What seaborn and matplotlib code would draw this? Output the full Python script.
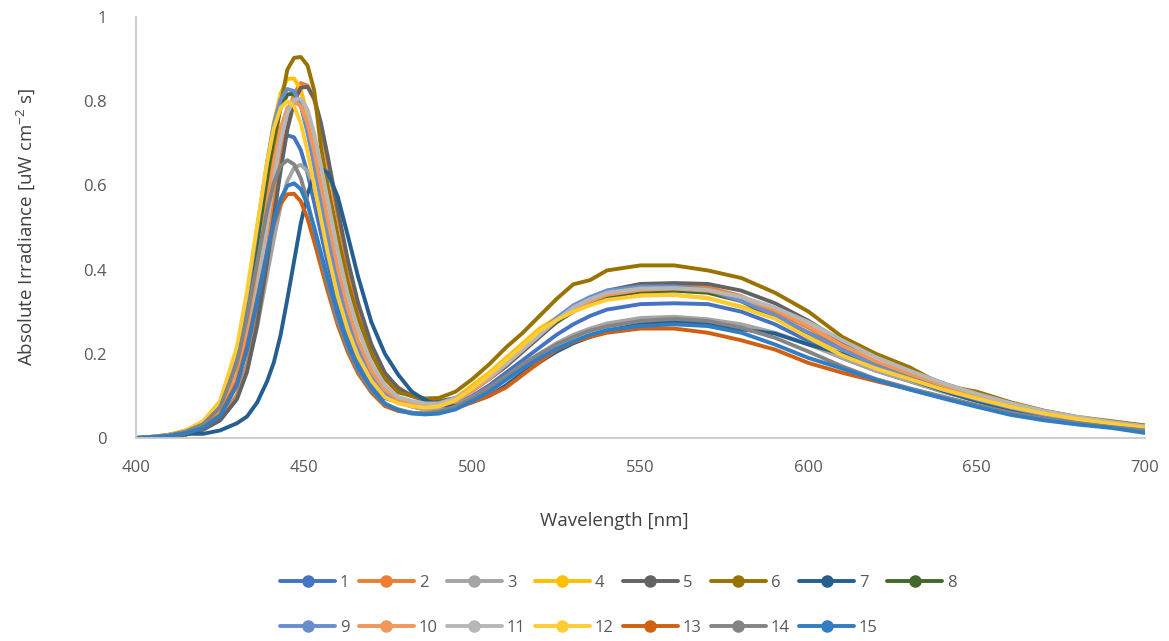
import pandas as pd
import matplotlib
matplotlib.use("Agg")
import matplotlib.pyplot as plt
from matplotlib.lines import Line2D
import seaborn as sns

# ==========================================
# Data
# ==========================================
wavelength = [400, 405, 410, 415, 420, 425, 430, 433, 436, 439, 441, 443, 445, 447, 449, 451, 453, 455,
              457, 460, 463, 466, 470, 474, 478, 482, 486, 490, 495, 500, 505, 510, 515, 520, 525, 530,
              535, 540, 550, 560, 570, 580, 590, 600, 610, 620, 630, 640, 650, 660, 670, 680, 690, 700]

led_01 = [0, 0.003, 0.006, 0.016, 0.034, 0.074, 0.179, 0.292, 0.431, 0.569, 0.647, 0.697, 0.719, 0.714, 0.684, 0.629, 0.558, 0.486,
          0.414, 0.317, 0.241, 0.183, 0.128, 0.095, 0.085, 0.075, 0.068, 0.068, 0.08, 0.10, 0.125, 0.155, 0.185, 0.215, 0.245, 0.27,
          0.29, 0.305, 0.318, 0.32, 0.318, 0.30, 0.27, 0.23, 0.19, 0.16, 0.135, 0.11, 0.088, 0.068, 0.052, 0.04, 0.03, 0.02]
led_02 = [0, 0.0, 0.003, 0.009, 0.022, 0.045, 0.102, 0.174, 0.293, 0.45, 0.56, 0.668, 0.759, 0.818, 0.843, 0.837, 0.803, 0.738,
          0.655, 0.528, 0.408, 0.311, 0.215, 0.15, 0.12, 0.10, 0.088, 0.085, 0.092, 0.112, 0.14, 0.175, 0.21, 0.245, 0.28, 0.31,
          0.33, 0.348, 0.362, 0.365, 0.358, 0.337, 0.30, 0.262, 0.216, 0.178, 0.148, 0.122, 0.098, 0.076, 0.058, 0.045, 0.034, 0.025]
led_03 = [0, 0.001, 0.004, 0.009, 0.02, 0.042, 0.094, 0.161, 0.263, 0.389, 0.473, 0.551, 0.61, 0.642, 0.649, 0.634, 0.595, 0.536,
          0.471, 0.374, 0.286, 0.218, 0.15, 0.105, 0.085, 0.075, 0.067, 0.066, 0.078, 0.097, 0.12, 0.145, 0.175, 0.20, 0.225, 0.245,
          0.26, 0.272, 0.285, 0.288, 0.282, 0.27, 0.25, 0.222, 0.19, 0.16, 0.135, 0.11, 0.088, 0.068, 0.052, 0.04, 0.03, 0.02]
led_04 = [0, 0.003, 0.008, 0.018, 0.038, 0.081, 0.193, 0.321, 0.484, 0.651, 0.75, 0.818, 0.853, 0.854, 0.827, 0.767, 0.686, 0.60,
          0.514, 0.394, 0.30, 0.227, 0.159, 0.111, 0.095, 0.085, 0.08, 0.08, 0.095, 0.125, 0.155, 0.19, 0.225, 0.26, 0.285, 0.305,
          0.32, 0.33, 0.34, 0.34, 0.332, 0.312, 0.285, 0.24, 0.198, 0.168, 0.142, 0.118, 0.097, 0.078, 0.06, 0.046, 0.035, 0.025]
led_05 = [0, 0, 0.003, 0.008, 0.02, 0.042, 0.092, 0.157, 0.268, 0.418, 0.527, 0.635, 0.732, 0.798, 0.832, 0.834, 0.807, 0.748,
          0.669, 0.543, 0.422, 0.322, 0.222, 0.155, 0.118, 0.10, 0.09, 0.087, 0.095, 0.115, 0.14, 0.17, 0.205, 0.24, 0.275, 0.305,
          0.33, 0.35, 0.366, 0.368, 0.366, 0.35, 0.32, 0.278, 0.228, 0.195, 0.16, 0.13, 0.104, 0.082, 0.063, 0.048, 0.036, 0.026]
led_06 = [0, 0.002, 0.005, 0.014, 0.029, 0.062, 0.143, 0.244, 0.394, 0.570, 0.688, 0.792, 0.875, 0.903, 0.905, 0.885, 0.825, 0.69,
          0.60, 0.48, 0.37, 0.285, 0.199, 0.14, 0.108, 0.10, 0.094, 0.095, 0.11, 0.14, 0.175, 0.215, 0.25, 0.29, 0.33, 0.365,
          0.375, 0.398, 0.41, 0.41, 0.398, 0.38, 0.345, 0.30, 0.24, 0.20, 0.168, 0.125, 0.11, 0.085, 0.065, 0.05, 0.04, 0.03]
led_07 = [0, 0.002, 0.008, 0.01, 0.01, 0.018, 0.035, 0.051, 0.084, 0.135, 0.18, 0.245, 0.33, 0.42, 0.51, 0.58, 0.625, 0.64,
          0.63, 0.573, 0.48, 0.384, 0.275, 0.20, 0.15, 0.11, 0.09, 0.078, 0.076, 0.085, 0.10, 0.125, 0.155, 0.18, 0.205, 0.225,
          0.24, 0.255, 0.27, 0.278, 0.272, 0.258, 0.248, 0.222, 0.20, 0.168, 0.14, 0.112, 0.088, 0.068, 0.052, 0.04, 0.03, 0.02]
led_08 = [0, 0.002, 0.007, 0.017, 0.036, 0.078, 0.185, 0.308, 0.463, 0.623, 0.718, 0.783, 0.816, 0.818, 0.791, 0.734, 0.656, 0.574,
          0.492, 0.377, 0.287, 0.217, 0.152, 0.107, 0.09, 0.082, 0.077, 0.078, 0.09, 0.115, 0.145, 0.175, 0.21, 0.245, 0.275, 0.30,
          0.32, 0.335, 0.348, 0.35, 0.345, 0.325, 0.285, 0.25, 0.21, 0.175, 0.145, 0.118, 0.095, 0.075, 0.058, 0.044, 0.033, 0.024]
led_09 = [0, 0.003, 0.007, 0.018, 0.039, 0.086, 0.206, 0.337, 0.497, 0.656, 0.746, 0.804, 0.829, 0.824, 0.789, 0.725, 0.644, 0.561,
          0.478, 0.366, 0.278, 0.211, 0.148, 0.105, 0.088, 0.078, 0.073, 0.075, 0.09, 0.115, 0.145, 0.18, 0.215, 0.25, 0.285, 0.315,
          0.335, 0.35, 0.36, 0.36, 0.352, 0.325, 0.292, 0.25, 0.21, 0.172, 0.142, 0.115, 0.092, 0.072, 0.055, 0.042, 0.032, 0.022]
led_10 = [0, 0.002, 0.006, 0.014, 0.03, 0.064, 0.15, 0.256, 0.40, 0.556, 0.656, 0.736, 0.784, 0.80, 0.788, 0.748, 0.68, 0.60,
          0.52, 0.404, 0.308, 0.232, 0.16, 0.114, 0.092, 0.08, 0.074, 0.075, 0.088, 0.112, 0.14, 0.175, 0.21, 0.245, 0.28, 0.305,
          0.325, 0.34, 0.352, 0.355, 0.35, 0.335, 0.305, 0.265, 0.22, 0.182, 0.152, 0.125, 0.10, 0.078, 0.06, 0.046, 0.035, 0.025]
led_11 = [0, 0.002, 0.005, 0.012, 0.026, 0.055, 0.128, 0.218, 0.351, 0.509, 0.614, 0.707, 0.772, 0.804, 0.806, 0.78, 0.723, 0.646,
          0.566, 0.444, 0.339, 0.259, 0.178, 0.125, 0.097, 0.088, 0.082, 0.082, 0.095, 0.118, 0.145, 0.175, 0.21, 0.245, 0.28, 0.31,
          0.33, 0.345, 0.355, 0.356, 0.352, 0.335, 0.31, 0.275, 0.232, 0.192, 0.16, 0.13, 0.105, 0.083, 0.064, 0.05, 0.038, 0.028]
led_12 = [0, 0.003, 0.008, 0.019, 0.04, 0.088, 0.216, 0.348, 0.504, 0.656, 0.736, 0.784, 0.80, 0.788, 0.748, 0.68, 0.60, 0.52,
          0.44, 0.336, 0.256, 0.194, 0.136, 0.097, 0.082, 0.076, 0.072, 0.075, 0.09, 0.118, 0.15, 0.185, 0.22, 0.255, 0.28, 0.30,
          0.315, 0.328, 0.338, 0.34, 0.333, 0.31, 0.283, 0.238, 0.196, 0.165, 0.14, 0.115, 0.094, 0.074, 0.058, 0.045, 0.034, 0.024]
led_13 = [0, 0.002, 0.005, 0.012, 0.026, 0.055, 0.131, 0.218, 0.329, 0.442, 0.509, 0.556, 0.579, 0.58, 0.562, 0.521, 0.466, 0.407,
          0.349, 0.268, 0.204, 0.154, 0.108, 0.076, 0.064, 0.06, 0.058, 0.062, 0.07, 0.085, 0.10, 0.12, 0.15, 0.18, 0.21, 0.228,
          0.24, 0.25, 0.26, 0.26, 0.25, 0.232, 0.21, 0.178, 0.155, 0.135, 0.116, 0.096, 0.076, 0.057, 0.044, 0.034, 0.025, 0.017]
led_14 = [0, 0.003, 0.007, 0.016, 0.033, 0.073, 0.178, 0.287, 0.416, 0.541, 0.607, 0.647, 0.66, 0.65, 0.617, 0.561, 0.495, 0.429,
          0.363, 0.277, 0.211, 0.16, 0.112, 0.08, 0.068, 0.06, 0.058, 0.062, 0.075, 0.095, 0.12, 0.148, 0.175, 0.20, 0.222, 0.24,
          0.255, 0.265, 0.278, 0.283, 0.278, 0.262, 0.238, 0.205, 0.17, 0.14, 0.118, 0.098, 0.078, 0.06, 0.046, 0.035, 0.026, 0.018]
led_15 = [0, 0.002, 0.005, 0.012, 0.024, 0.052, 0.125, 0.21, 0.323, 0.441, 0.514, 0.568, 0.599, 0.605, 0.591, 0.554, 0.50, 0.439,
          0.379, 0.293, 0.223, 0.168, 0.118, 0.082, 0.066, 0.058, 0.056, 0.058, 0.068, 0.088, 0.11, 0.138, 0.165, 0.19, 0.212, 0.23,
          0.245, 0.256, 0.266, 0.27, 0.266, 0.25, 0.222, 0.19, 0.165, 0.138, 0.115, 0.094, 0.074, 0.055, 0.042, 0.032, 0.024, 0.012]

series_names = [str(i) for i in range(1, 16)]
series_values = [led_01, led_02, led_03, led_04, led_05, led_06, led_07, led_08,
                 led_09, led_10, led_11, led_12, led_13, led_14, led_15]

colors = ["#4472C4", "#ED7D31", "#A5A5A5", "#FFC000", "#636363", "#997300", "#255E91", "#43682B",
          "#698ED0", "#F1975A", "#B7B7B7", "#FFCD33", "#D06012", "#848484", "#327DC2"]

x_ticks = [400, 450, 500, 550, 600, 650, 700]
y_ticks = [0, 0.2, 0.4, 0.6, 0.8, 1]

# ==========================================
# Long-form table
# ==========================================
data = pd.concat(
    [pd.DataFrame({"Wavelength": wavelength, "Irradiance": vals, "LED": name})
     for name, vals in zip(series_names, series_values)],
    ignore_index=True,
)

# ==========================================
# Plot
# ==========================================
sns.set_theme(style="white")
plt.rcParams["font.family"] = ["Open Sans", "DejaVu Sans"]
text_color = "#595959"

fig = plt.figure(figsize=(11.69, 6.41), dpi=100)
ax = fig.add_axes([136 / 1169, 1 - 438 / 641, 1009 / 1169, 421 / 641])

sns.lineplot(data=data, x="Wavelength", y="Irradiance", hue="LED", hue_order=series_names,
             palette=colors, linewidth=2.8, errorbar=None, legend=False, ax=ax,
             solid_capstyle="round", solid_joinstyle="round")

ax.set_xlim(400, 700)
ax.set_ylim(0, 1)
ax.set_xticks(x_ticks)
ax.set_yticks(y_ticks)
ax.set_yticklabels([f"{v:g}" for v in y_ticks])
ax.tick_params(axis="both", length=0, labelsize=12, colors=text_color)
ax.tick_params(axis="x", pad=16)
ax.tick_params(axis="y", pad=21)

for side in ["top", "right"]:
    ax.spines[side].set_visible(False)
for side in ["left", "bottom"]:
    ax.spines[side].set_color("#C9C9C9")
    ax.spines[side].set_linewidth(1.3)

ax.set_xlabel("Wavelength [nm]", fontsize=13.5, color="#404040")
ax.set_ylabel("Absolute Irradiance [uW cm$^{\\mathregular{-2}}$ s]", fontsize=13.5, color="#404040")
ax.xaxis.set_label_coords(0.474, -0.175)
ax.yaxis.set_label_coords(-0.097, 0.5)

# legend laid out in rows: 1..8 on top, 9..15 below
order = [0, 8, 1, 9, 2, 10, 3, 11, 4, 12, 5, 13, 6, 14, 7]
handles = [Line2D([0], [0], color=colors[i], lw=2.8, marker="o", markersize=8,
                  solid_capstyle="round") for i in order]
labels = [series_names[i] for i in order]
fig.legend(handles, labels, ncol=8, loc="upper left", bbox_to_anchor=(280 / 1169, 1 - 575 / 641),
           frameon=False, fontsize=12, labelcolor=text_color, handlelength=3.3, handletextpad=0.3,
           columnspacing=0.55, labelspacing=1.75, borderpad=0, borderaxespad=0)

fig.savefig("out.png", dpi=100)
